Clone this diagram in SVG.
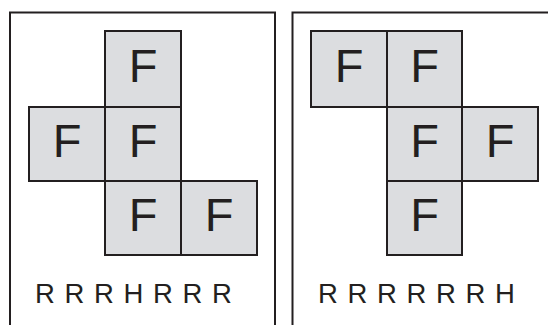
<svg xmlns="http://www.w3.org/2000/svg" width="548" height="325" viewBox="0 0 548 325">
<style>
.panel{fill:none;stroke:#231f20;stroke-width:2}
.sq rect{fill:#dcdde0;stroke:#231f20;stroke-width:2}
.sq text{font-family:"Liberation Sans",Arial,sans-serif;font-size:47px;fill:#231f20;text-anchor:middle}
.lbl{font-family:"Liberation Sans",Arial,sans-serif;font-size:27.5px;fill:#231f20;word-spacing:2px}
</style>
<rect width="548" height="325" fill="#fff"/>
<g id="panel-left">
<path class="panel" d="M10,326 V12.5 H275 V326"/>
<g class="sq" id="l1"><rect x="105" y="31" width="76" height="76"/><text x="143" y="82">F</text></g>
<g class="sq" id="l2"><rect x="29" y="107" width="76" height="74"/><text x="67" y="157">F</text></g>
<g class="sq" id="l3"><rect x="105" y="107" width="76" height="74"/><text x="143" y="157">F</text></g>
<g class="sq" id="l4"><rect x="105" y="181" width="76" height="74"/><text x="143" y="231">F</text></g>
<g class="sq" id="l5"><rect x="181" y="181" width="76" height="74"/><text x="219" y="231">F</text></g>
<text class="lbl" x="35" y="303">R R R H R R R</text>
</g>
<g id="panel-right">
<path class="panel" d="M292.5,326 V12.5 H550"/>
<g class="sq" id="r1"><rect x="311" y="31" width="76" height="76"/><text x="349" y="82">F</text></g>
<g class="sq" id="r2"><rect x="387" y="31" width="75" height="76"/><text x="424.5" y="82">F</text></g>
<g class="sq" id="r3"><rect x="387" y="107" width="75" height="74"/><text x="424.5" y="157">F</text></g>
<g class="sq" id="r4"><rect x="462" y="107" width="76" height="74"/><text x="500" y="157">F</text></g>
<g class="sq" id="r5"><rect x="387" y="181" width="75" height="74"/><text x="424.5" y="231">F</text></g>
<text class="lbl" x="318" y="303">R R R R R R H</text>
</g>
<g id="connectors"/>
</svg>
